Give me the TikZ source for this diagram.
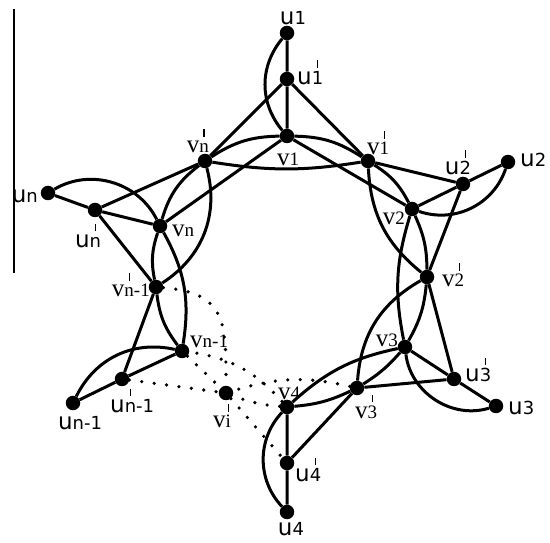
\documentclass[tikz,border=0pt]{standalone}
\usepackage{fontspec}
\newfontfamily\usf{DejaVu Sans}
\newfontfamily\vsf{Liberation Serif}
\newcommand{\barover}[2]{\ooalign{\hfil\raisebox{#2}{\rule{1.4pt}{7.5pt}}\hfil\cr#1\cr}}
\newcommand{\ulab}[1]{{\usf\fontsize{23}{25}\selectfont u\fontsize{18}{20}\selectfont #1}}
\newcommand{\ulabp}[2]{{\usf\fontsize{23}{25}\selectfont u\fontsize{18}{20}\selectfont\barover{#1}{17pt}#2}}
\newcommand{\vlab}[1]{{\vsf\fontsize{25}{27}\selectfont v\fontsize{19}{21}\selectfont #1}}
\newcommand{\vlabp}[2]{{\vsf\fontsize{25}{27}\selectfont v\fontsize{19}{21}\selectfont\barover{#1}{16pt}#2}}
\begin{document}
\begin{tikzpicture}[x=1pt,y=1pt,
  dot/.style={circle,fill=black,inner sep=0pt,minimum size=14.5pt},
  edge/.style={line width=3pt},
  dotline/.style={line width=3.6pt,line cap=round,dash pattern=on 0pt off 12.5pt},
  lab/.style={inner sep=0pt}]
\useasboundingbox (0,0) rectangle (550,542);
% nodes
\node[dot] (u1) at (287,509) {};
\node[dot] (u1p) at (287,463) {};
\node[dot] (v1) at (287,406) {};
\node[dot] (vnp) at (205,381) {};
\node[dot] (v1p) at (368,381) {};
\node[dot] (v2) at (412,333) {};
\node[dot] (u2p) at (463,358) {};
\node[dot] (u2) at (508,380) {};
\node[dot] (v2p) at (427,265) {};
\node[dot] (v3) at (405,195) {};
\node[dot] (u3p) at (454,163) {};
\node[dot] (u3) at (496,136) {};
\node[dot] (v3p) at (357,154) {};
\node[dot] (v4) at (287,135) {};
\node[dot] (u4p) at (287,79) {};
\node[dot] (u4) at (287,30) {};
\node[dot] (vip) at (226,149) {};
\node[dot] (vm) at (182,191) {};
\node[dot] (ump) at (122,163) {};
\node[dot] (um) at (73,139) {};
\node[dot] (vmp) at (156,255) {};
\node[dot] (vn) at (160,316) {};
\node[dot] (unp) at (95,332) {};
\node[dot] (un) at (48,349) {};
% left rule
\coordinate (ltop) at (14,533);
\coordinate (lbot) at (14,269);
\draw[line width=1.2pt] (ltop) -- (lbot);
% straight edges
\draw[edge] (u1) -- (u1p) (u1p) -- (v1) (u1p) -- (vnp) (u1p) -- (v1p);
\draw[edge] (u2) -- (u2p) (u2p) -- (v2) (u2p) -- (v1p) (u2p) -- (v2p);
\draw[edge] (u3) -- (u3p) (u3p) -- (v3) (u3p) -- (v2p) (u3p) -- (v3p);
\draw[edge] (u4) -- (u4p) (u4p) -- (v4) (u4p) -- (v3p);
\draw[edge] (um) -- (ump) (ump) -- (vm) (ump) -- (vmp);
\draw[edge] (un) -- (unp) (unp) -- (vn) (unp) -- (vmp) (unp) -- (vnp);
\draw[edge] (v1) -- (v2) (vn) -- (v1);
% pendant curves
\draw[edge] (u1) to[bend right=40] (v1);
\draw[edge] (u2) to[bend left=45] (v2);
\draw[edge] (v3) to[bend right=50] (u3);
\draw[edge] (v4) to[bend right=43] (u4);
\draw[edge] (um) to[bend left=38] (vm);
\draw[edge] (un) to[bend left=47] (vn);
% outer ring arcs
\draw[edge] (vnp) to[bend left=16] (v1);
\draw[edge] (v1) to[bend left=16] (v1p);
\draw[edge] (v1p) to[bend left=15] (v2);
\draw[edge] (v2) to[bend left=12] (v2p);
\draw[edge] (v2p) to[bend left=12] (v3);
\draw[edge] (v3) to[bend left=8] (v3p);
\draw[edge] (v3p) to[bend left=10] (v4);
\draw[edge] (vm) to[bend left=15] (vmp);
\draw[edge] (vmp) to[bend left=15] (vn);
\draw[edge] (vn) to[bend left=18] (vnp);
% inner curves
\draw[edge] (vnp) to[bend right=9] (v1p);
\draw[edge] (v1p) to[bend right=24] (v2p);
\draw[edge] (v2) to[bend right=14] (v3);
\draw[edge] (v2p) to[bend right=28] (v3p);
\draw[edge] (v3) to[bend right=15] (v4);
\draw[edge] (vm) to[bend right=19] (vn);
\draw[edge] (vmp) to[bend right=36] (vnp);
% dotted
\draw[dotline] (ump) -- (vip);
\draw[dotline] (vm) -- (vip);
\draw[dotline] (vmp) to[out=-5,in=90,looseness=1.4] (vip);
\draw[dotline] (v4) to[bend right=20] (vm);
\draw[dotline] (v4) to[bend left=8] (vip);
\draw[dotline] (vip) -- (u4p);
\draw[dotline] (v3p) to[bend right=15] (vip);
% labels
\node[lab,anchor=base] (l-u1) at (293,517) {\ulab{1}};
\node[lab,anchor=base west] (l-u1p) at (297,457) {\ulabp{1}{}};
\node[lab,anchor=base west] (l-v1p) at (367,387) {\vlabp{1}{}};
\node[lab,anchor=base east] (l-vnp) at (209,389) {\vlabp{n}{}};
\node[lab,anchor=base] (l-v1) at (288,376) {\vlab{1}};
\node[lab,anchor=base] (l-u2p) at (458,367) {\ulabp{2}{}};
\node[lab,anchor=base west] (l-u2) at (520,375) {\ulab{2}};
\node[lab,anchor=base east] (l-v2) at (405,317) {\vlab{2}};
\node[lab,anchor=base west] (l-v2p) at (442,255) {\vlabp{2}{}};
\node[lab,anchor=base east] (l-v3) at (398,195) {\vlab{3}};
\node[lab,anchor=base west] (l-u3p) at (465,160) {\ulabp{3}{}};
\node[lab,anchor=base west] (l-u3) at (508,127) {\ulab{3}};
\node[lab,anchor=base west] (l-v3p) at (355,124) {\vlabp{3}{}};
\node[lab,anchor=base] (l-v4) at (289,142) {\vlab{4}};
\node[lab,anchor=base west] (l-u4p) at (295,60) {\ulabp{4}{}};
\node[lab,anchor=base] (l-u4) at (291,6) {\ulab{4}};
\node[lab,anchor=base] (l-vip) at (222,114) {\vlabp{i}{}};
\node[lab,anchor=base] (l-um) at (80,112) {\ulab{n-1}};
\node[lab,anchor=base west] (l-ump) at (110,129) {\ulabp{n}{-1}};
\node[lab,anchor=base west] (l-vm) at (190,194) {\vlab{n-1}};
\node[lab,anchor=base east] (l-vmp) at (150,245) {\vlabp{n}{-1}};
\node[lab,anchor=base west] (l-vn) at (172,305) {\vlab{n}};
\node[lab,anchor=base] (l-unp) at (88,294) {\ulabp{n}{}};
\node[lab,anchor=base east] (l-un) at (38,339) {\ulab{n}};
\end{tikzpicture}
\end{document}
